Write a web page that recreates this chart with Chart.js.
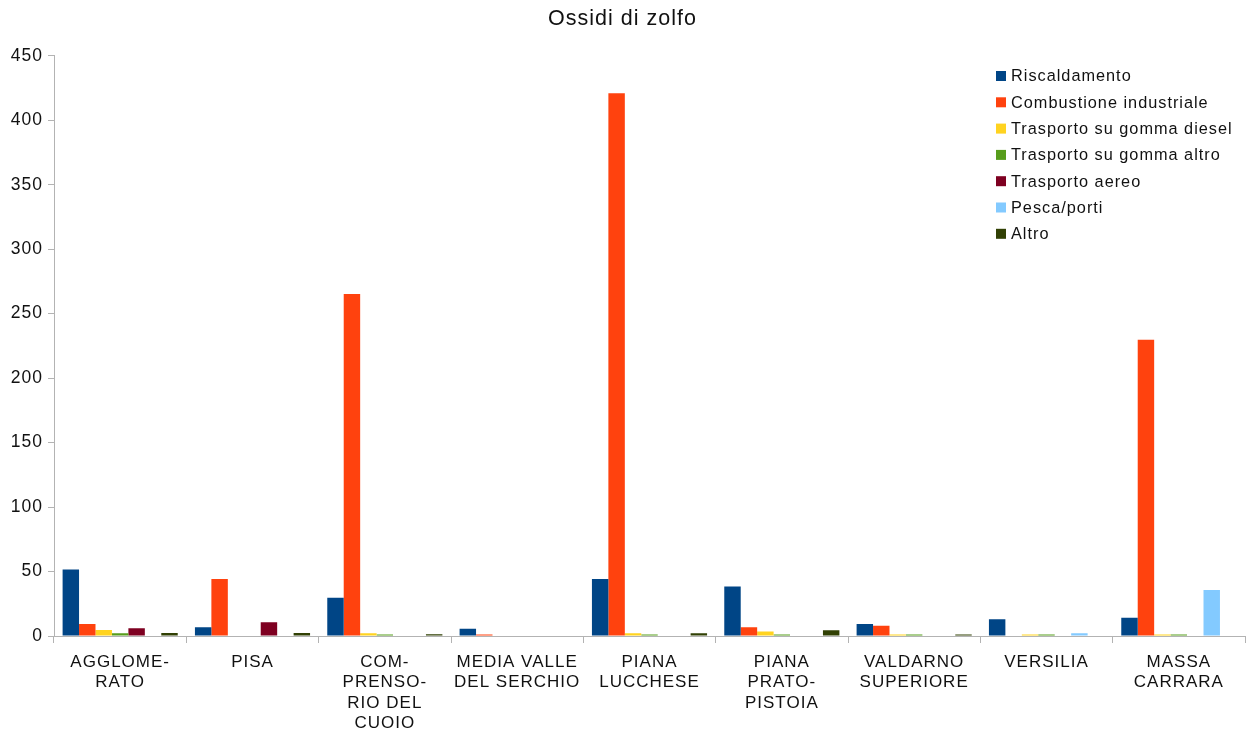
<!DOCTYPE html>
<html lang="it">
<head>
    <meta charset="UTF-8">
    <title>Ossidi di zolfo</title>
    <style>
        html, body {
            margin: 0;
            padding: 0;
            background: #fff;
        }

        .chartContainer {
            position: relative;
            width: 1246px;
            height: 733px;
        }
    </style>
</head>
<body>
    <div class="chartContainer">
        <canvas id="chartCanvas"></canvas>
    </div>
    <script src="https://cdn.jsdelivr.net/npm/chart.js"></script>
    <script>
        const zones = [
            ["AGGLOME-", "RATO"],
            ["PISA"],
            ["COM-", "PRENSO-", "RIO DEL", "CUOIO"],
            ["MEDIA VALLE", "DEL SERCHIO"],
            ["PIANA", "LUCCHESE"],
            ["PIANA", "PRATO-", "PISTOIA"],
            ["VALDARNO", "SUPERIORE"],
            ["VERSILIA"],
            ["MASSA", "CARRARA"]
        ];

        const sources = [
            "Riscaldamento",
            "Combustione industriale",
            "Trasporto su gomma diesel",
            "Trasporto su gomma altro",
            "Trasporto aereo",
            "Pesca/porti",
            "Altro"
        ];

        const sourceColors = ["#004586", "#ff420e", "#ffd320", "#579d1c", "#7e0021", "#83caff", "#314004"];

        // values, one array per source
        const riscaldamento = [51.5, 6.8, 29.7, 5.7, 44.2, 38.3, 9.3, 13.0, 14.2];
        const combustione = [9.3, 44.2, 265.3, 1.2, 421.0, 6.7, 8.0, 0, 229.8];
        const gommaDiesel = [4.7, 0, 2.1, 0, 2.1, 3.4, 1.2, 1.2, 1.2];
        const gommaAltro = [2.1, 0, 1.2, 0, 1.2, 1.2, 1.2, 1.2, 1.2];
        const aereo = [6.0, 10.6, 0, 0, 0, 0, 0, 0, 0];
        const pescaPorti = [0, 0, 0, 0, 0, 0, 0, 2.1, 35.7];
        const altro = [2.3, 2.3, 1.3, 0, 2.1, 4.4, 1.2, 0, 0];

        const seriesValues = [riscaldamento, combustione, gommaDiesel, gommaAltro, aereo, pescaPorti, altro];

        const yTicks = [0, 50, 100, 150, 200, 250, 300, 350, 400, 450];

        const FONT = "'Liberation Sans', Arial, sans-serif";
        const AXIS_COLOR = "#b3b3b3";

        // LibreOffice-like wide text
        const spacingPlugin = {
            id: "spacing",
            beforeUpdate(chart) { chart.ctx.letterSpacing = "1px"; },
            beforeDraw(chart) { chart.ctx.letterSpacing = "1px"; }
        };

        // legend inside the plot, top right
        const boxLegend = {
            id: "boxLegend",
            afterDraw(chart) {
                const ctx = chart.ctx;
                ctx.save();
                ctx.letterSpacing = "1px";
                ctx.font = "16.3px " + FONT;
                ctx.textBaseline = "middle";
                ctx.textAlign = "left";
                chart.data.datasets.forEach((ds, i) => {
                    const y = 76 + i * 26.3;
                    ctx.fillStyle = ds.backgroundColor;
                    ctx.fillRect(996, y - 5, 10, 10);
                    ctx.fillStyle = "#111";
                    ctx.fillText(ds.label, 1011, y + 1);
                });
                ctx.restore();
            }
        };

        const ctx = document.getElementById("chartCanvas").getContext("2d");
        new Chart(ctx, {
            type: "bar",
            data: {
                labels: zones,
                datasets: sources.map((name, i) => ({
                    label: name,
                    data: seriesValues[i],
                    backgroundColor: sourceColors[i],
                    borderWidth: 0,
                    categoryPercentage: 0.87,
                    barPercentage: 1.0
                }))
            },
            options: {
                responsive: true,
                maintainAspectRatio: false,
                animation: false,
                layout: {
                    padding: { left: 0, right: 1, top: 0, bottom: 0 }
                },
                plugins: {
                    legend: { display: false },
                    tooltip: { enabled: false },
                    title: {
                        display: true,
                        text: "Ossidi di zolfo",
                        color: "#111",
                        font: { family: FONT, size: 21.5, weight: "normal" },
                        padding: { top: 6, bottom: 24 }
                    }
                },
                scales: {
                    x: {
                        grid: {
                            offset: true,
                            drawOnChartArea: false,
                            tickLength: 7,
                            color: AXIS_COLOR
                        },
                        border: { color: AXIS_COLOR },
                        ticks: {
                            color: "#111",
                            maxRotation: 0,
                            autoSkip: false,
                            padding: 9,
                            font: { family: FONT, size: 17, lineHeight: 1.2 }
                        },
                        afterFit(scale) { scale.height = 97; }
                    },
                    y: {
                        min: 0,
                        max: 450,
                        afterBuildTicks(scale) {
                            scale.ticks = yTicks.map(v => ({ value: v }));
                        },
                        grid: {
                            drawOnChartArea: false,
                            tickLength: 6,
                            color: AXIS_COLOR
                        },
                        border: { color: AXIS_COLOR },
                        ticks: {
                            color: "#111",
                            padding: 5,
                            font: { family: FONT, size: 17.5 }
                        },
                        afterFit(scale) { scale.width = 54; }
                    }
                }
            },
            plugins: [spacingPlugin, boxLegend]
        });
    </script>
</body>
</html>
